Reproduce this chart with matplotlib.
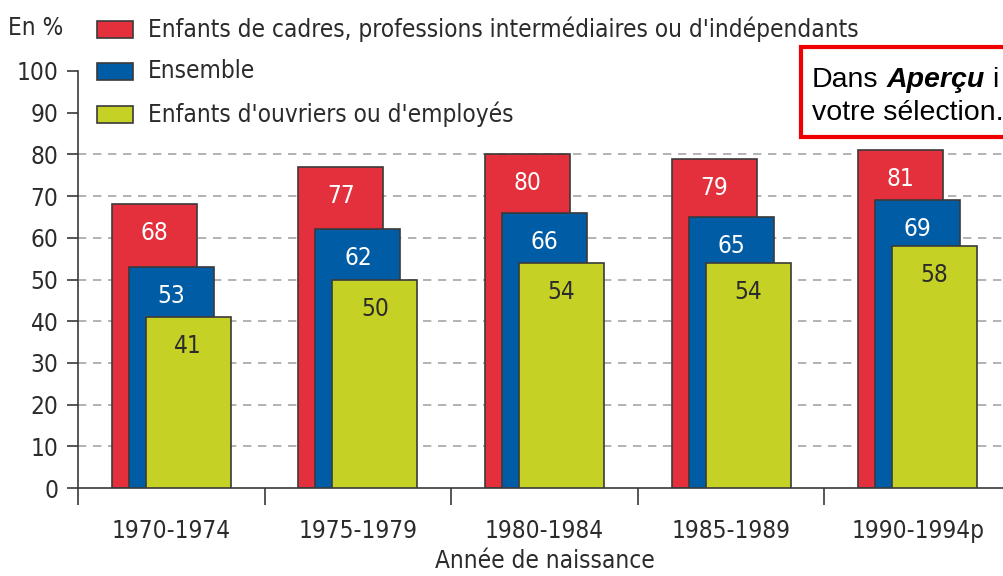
"""
Part des enfants ayant obtenu le baccalauréat selon l'origine sociale,
par année de naissance (barres superposées en décalage).
"""

import matplotlib
matplotlib.use('Agg')
import matplotlib.pyplot as plt
from matplotlib import font_manager
from matplotlib.patches import Rectangle
import numpy as np

# Données
periodes = ['1970-1974', '1975-1979', '1980-1984', '1985-1989', '1990-1994p']
series = ['Enfants de cadres, professions intermédiaires ou d\'indépendants',
          'Ensemble',
          'Enfants d\'ouvriers ou d\'employés']
cadres = [68, 77, 80, 79, 81]
ensemble = [53, 62, 66, 65, 69]
ouvriers = [41, 50, 54, 54, 58]
yticks = [0, 10, 20, 30, 40, 50, 60, 70, 80, 90, 100]
grid_levels = [10, 20, 30, 40, 50, 60, 70, 80]

colors = {
    'red': '#E3303C',
    'blue': '#005CA5',
    'green': '#C5D225',
    'edge': '#3a3a3a',
    'text': '#2b2b2b',
    'grid': '#a5a5a5',
}

# Police condensée si disponible
installed = {(f.name, f.stretch) for f in font_manager.fontManager.ttflist}
names = {n for n, _ in installed}
if 'Liberation Sans Narrow' in names:
    FONT = dict(family='Liberation Sans Narrow')
    FS = 19
elif any(n == 'DejaVu Sans' and s == 'condensed' for n, s in installed):
    FONT = dict(family='DejaVu Sans', stretch='condensed')
    FS = 17.5
else:
    FONT = dict(family='DejaVu Sans')
    FS = 15

fig = plt.figure(figsize=(10.04, 5.76), dpi=100)
W, H = 1004, 576
ax = fig.add_axes([78 / W, 88 / H, 933 / W, 417 / H])

x = np.arange(len(periodes))
width = 0.455
offset = 0.091

for lvl in grid_levels:
    ax.axhline(lvl, color=colors['grid'], linestyle=(0, (5, 4)), linewidth=1.2, zorder=0)

bar_sets = [
    (cadres, x - offset, colors['red'], 'white'),
    (ensemble, x, colors['blue'], 'white'),
    (ouvriers, x + offset, colors['green'], colors['text']),
]
for i, (vals, xpos, col, tcol) in enumerate(bar_sets):
    bars = ax.bar(xpos, vals, width=width, color=col, edgecolor=colors['edge'],
                  linewidth=1.2, zorder=2 + i, label=series[i])
    for b, v in zip(bars, vals):
        ax.annotate(str(v), (b.get_x() + b.get_width() / 2, v),
                    xytext=(0, -29), textcoords='offset pixels',
                    ha='center', va='center', color=tcol, fontsize=FS,
                    zorder=10, **FONT)

ax.set_xlim(-0.5, len(periodes) - 0.5)
ax.set_ylim(0, 100)
ax.set_yticks(yticks)
ax.set_yticklabels([str(t) for t in yticks], fontsize=FS, color=colors['text'], **FONT)
ax.tick_params(axis='y', direction='out', length=8, width=1.2, color=colors['edge'], pad=6)

ax.set_xticks(x)
ax.set_xticklabels(periodes, fontsize=FS, color=colors['text'], **FONT)
ax.set_xticks(np.arange(len(periodes) + 1) - 0.5, minor=True)
ax.tick_params(axis='x', which='major', length=0, pad=22)
ax.tick_params(axis='x', which='minor', direction='out', length=12, width=1.2,
               color=colors['edge'])
ax.set_xlabel('Année de naissance', fontsize=FS, color=colors['text'], labelpad=5, **FONT)

for s in ['top', 'right']:
    ax.spines[s].set_visible(False)
for s in ['left', 'bottom']:
    ax.spines[s].set_color(colors['edge'])
    ax.spines[s].set_linewidth(1.2)

# Unité et légende en haut à gauche
fig.text(8 / W, 1 - 28 / H, 'En %', fontsize=FS, color=colors['text'],
         va='center', ha='left', **FONT)
leg_colors = [colors['red'], colors['blue'], colors['green']]
for i, (lab, col) in enumerate(zip(series, leg_colors)):
    yc = 29 + i * 42.5
    fig.patches.append(Rectangle((97 / W, 1 - (yc + 8.5) / H), 36 / W, 17 / H,
                                 transform=fig.transFigure, facecolor=col,
                                 edgecolor=colors['edge'], linewidth=1.2))
    fig.text(148 / W, 1 - yc / H, lab, fontsize=FS, color=colors['text'],
             va='center', ha='left', **FONT)

# Encadré rouge (capture d'écran)
fig.patches.append(Rectangle((801 / W, 1 - 137 / H), 240 / W, 90 / H,
                             transform=fig.transFigure, facecolor='white',
                             edgecolor='#EE0000', linewidth=3, zorder=20))
box_txt = dict(fontsize=20.5, family='Liberation Sans', va='center', ha='left',
               color='black', zorder=21)
renderer = fig.canvas.get_renderer()
space = 0.278 * 20.5 * 100 / 72
xpix = 812
for word, extra in [('Dans', {}), ('Aperçu', dict(weight='bold', style='italic')),
                    ('i', {})]:
    t = fig.text(xpix / W, 1 - 80 / H, word, **box_txt, **extra)
    xpix = t.get_window_extent(renderer).x1 + space
fig.text(812 / W, 1 - 113 / H, 'votre sélection.', **box_txt)

fig.savefig('out.png', dpi=100, facecolor='white')
plt.close(fig)
